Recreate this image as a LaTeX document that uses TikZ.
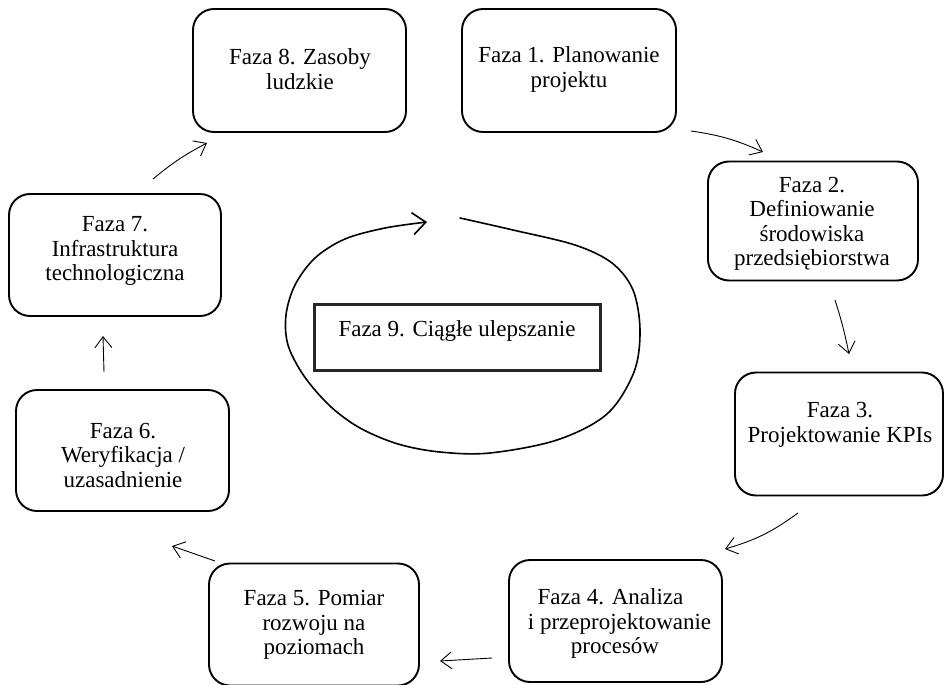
\documentclass[tikz,border=0pt]{standalone}
\usepackage{fontspec}
\setmainfont{Liberation Serif}
\usetikzlibrary{arrows.meta}
\begin{document}
\begin{tikzpicture}[x=1pt,y=-1pt,
  phase/.style={draw, rounded corners=21pt, line width=1.9pt, inner sep=0pt},
  centerbox/.style={draw=black!85, line width=2.8pt, inner sep=0pt},
  phasetext/.style={font=\fontsize{23}{24.5}\selectfont, align=center, inner sep=0pt},
  flow/.style={-{Straight Barb[length=11pt,width=17pt]}, line width=0.9pt},
  cycle/.style={-{Straight Barb[length=13pt,width=22pt]}, line width=1.6pt, line cap=round}
]
\useasboundingbox (0,0) rectangle (945,685);

% phase frames
\node[phase, minimum width=213pt, minimum height=123pt] (b8) at (299.5,70.5) {};
\node[phase, minimum width=214pt, minimum height=123pt] (b1) at (569,70.5) {};
\node[phase, minimum width=210pt, minimum height=119pt] (b2) at (813,221) {};
\node[phase, minimum width=208pt, minimum height=123pt] (b3) at (839,434) {};
\node[phase, minimum width=213pt, minimum height=122pt] (b4) at (615.5,621) {};
\node[phase, minimum width=210pt, minimum height=122pt] (b5) at (314,624.5) {};
\node[phase, minimum width=213pt, minimum height=121pt] (b6) at (122.5,450.5) {};
\node[phase, minimum width=212pt, minimum height=122pt] (b7) at (115,255) {};
\node[centerbox, minimum width=286pt, minimum height=66pt] (b9) at (457.5,337.5) {};

% phase titles
\node[phasetext] (t8) at (300,69) {Faza 8. Zasoby\\ludzkie};
\node[phasetext] (t1) at (569,69.5) {Faza 1. Planowanie\\projektu};
\node[phasetext] (t2) at (812,224) {Faza 2.\\Definiowanie\\środowiska\\przedsiębiorstwa};
\node[phasetext] (t3) at (840,425) {Faza 3.\\Projektowanie KPIs};
\node[phasetext] (t4) at (615,623.5) {Faza 4. Analiza\kern9pt\\\kern9pt i przeprojektowanie\\procesów};
\node[phasetext] (t5) at (314,625) {Faza 5. Pomiar\\rozwoju na\\poziomach};
\node[phasetext] (t6) at (123,455) {Faza 6.\\Weryfikacja /\\uzasadnienie};
\node[phasetext] (t7) at (115,251) {Faza 7.\\Infrastruktura\\technologiczna};
\node[phasetext] (t9) at (457,331) {Faza 9. Ciągłe ulepszanie};

% arrow ends between phases
\coordinate (s12) at (691,131);  \coordinate (e12) at (763,152);
\coordinate (s23) at (835,300);  \coordinate (e23) at (849,354);
\coordinate (s34) at (798,513);  \coordinate (e34) at (725,549);
\coordinate (s45) at (492,658);  \coordinate (e45) at (440,661);
\coordinate (s56) at (215,561);  \coordinate (e56) at (172,546);
\coordinate (s67) at (104,372);  \coordinate (e67) at (103,336);
\coordinate (s78) at (153,179);  \coordinate (e78) at (207,143);

\draw[flow] (s12) to[bend left=8] (e12);
\draw[flow] (s23) to[bend left=3] (e23);
\draw[flow] (s34) to[bend left=10] (e34);
\draw[flow] (s45) to (e45);
\draw[flow] (s56) to (e56);
\draw[flow] (s67) to (e67);
\draw[flow] (s78) to[bend left=6] (e78);

% continuous improvement loop around phase 9
\draw[cycle] plot[smooth, tension=0.55] coordinates {
  (460,218) (513,230) (575,245) (612,263) (633,290) (640,330) (634,372)
  (607,414) (557,440) (490,453) (440,452) (398,444) (360,428) (330,406)
  (304,376) (288,345) (286,315) (295,285) (315,258) (345,239) (385,228) (427,222)};
\end{tikzpicture}
\end{document}
